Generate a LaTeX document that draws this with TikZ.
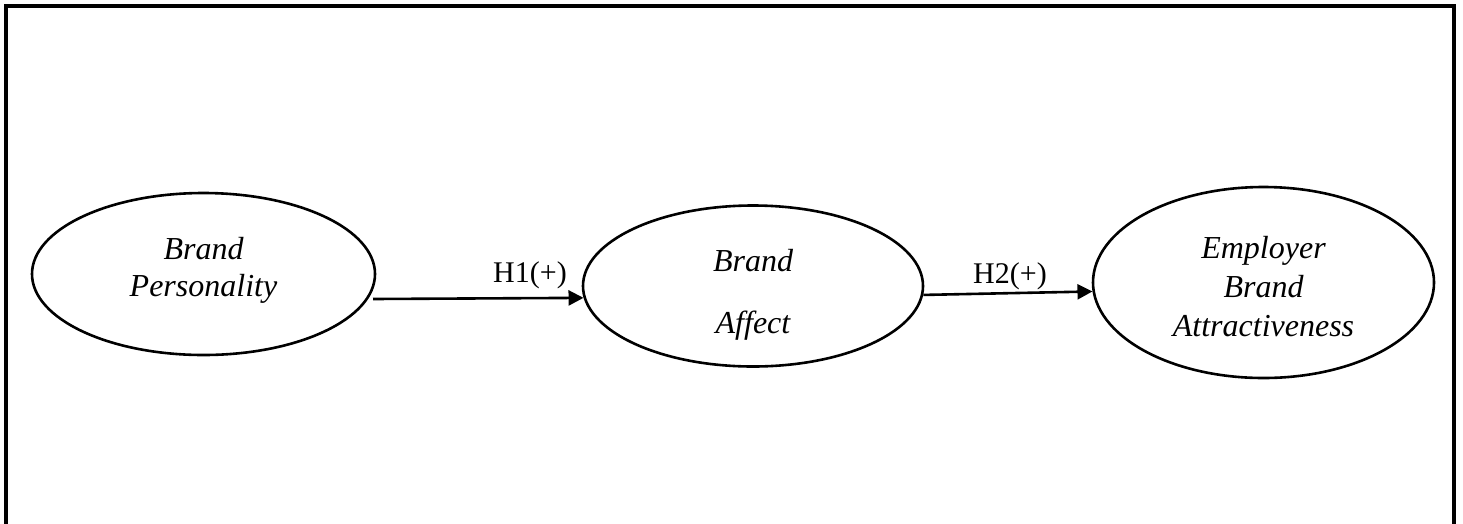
\documentclass[tikz,border=0pt]{standalone}
\usepackage{fontspec}
\setmainfont{Liberation Serif}
\usetikzlibrary{shapes.geometric,arrows.meta}
\tikzset{
  construct/.style={ellipse, draw, line width=2.6pt, inner sep=0pt, align=center,
    font=\fontsize{32}{38}\selectfont\itshape},
  arr/.style={line width=2.6pt, -{Triangle[length=15pt,width=15pt]}},
  hyp/.style={anchor=base, inner sep=0pt, font=\fontsize{30}{36}\selectfont},
  frame/.style={line width=3.4pt}
}
\begin{document}
\begin{tikzpicture}[x=1pt,y=-1pt]
\useasboundingbox (0,0) rectangle (1463,523);
\draw[frame] (6,540) -- (6,6) -- (1454,6) -- (1454,540);
\node[construct, minimum width=343pt, minimum height=162pt] (e1) at (203.5,274) {Brand\\[-1pt]Personality\rule[-14pt]{0pt}{1pt}};
\node[construct, minimum width=340pt, minimum height=161pt] (e2) at (753,286) {\rule{0pt}{40pt}Brand\\[24pt]Affect};
\node[construct, minimum width=341pt, minimum height=191pt] (e3) at (1263.5,282.5) {\rule{0pt}{30pt}Employer\\[1pt]Brand\\[1pt]Attractiveness};
\coordinate (s1) at (373,299);
\draw[arr] (s1) -- (e2.184);
\draw[arr] (e2.-3.4) -- (e3.183.2);
\node[hyp] (h1) at (530,282) {H1(+)};
\node[hyp] (h2) at (1010,283) {H2(+)};
\end{tikzpicture}
\end{document}
